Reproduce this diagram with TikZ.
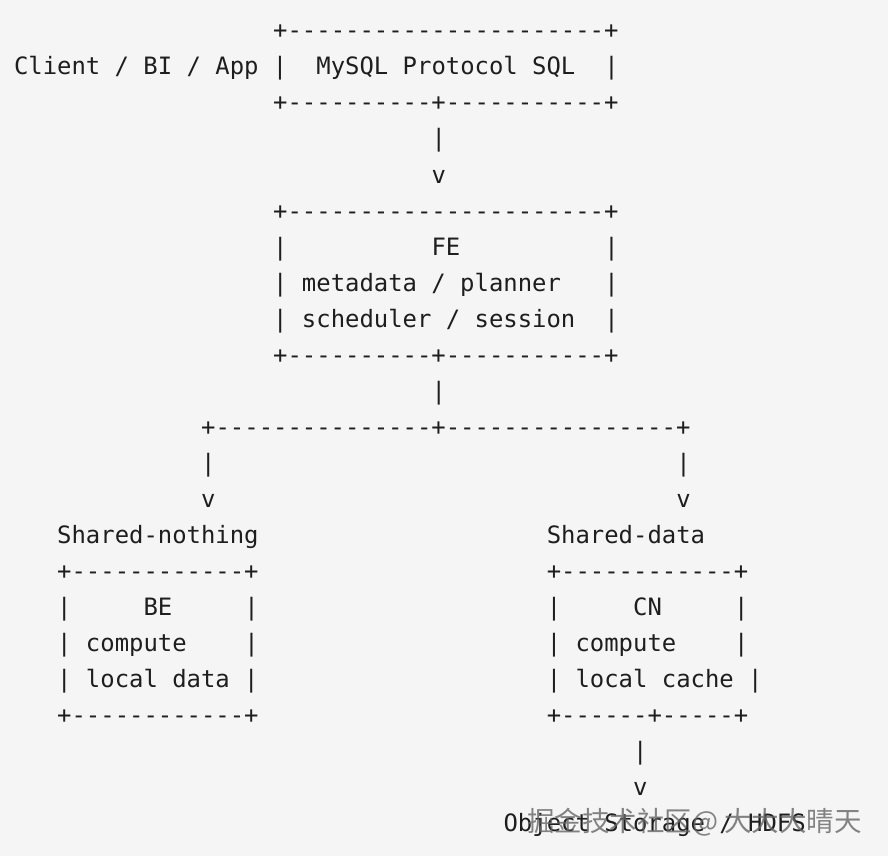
\documentclass[tikz,border=0pt]{standalone}
\usepackage{fontspec}
\setmonofont{DejaVu Sans Mono}
\newfontfamily\cjkfont{Noto Sans CJK SC}
\definecolor{bg}{HTML}{F5F5F5}
\definecolor{ink}{HTML}{1E1E1E}
\begin{document}
\begin{tikzpicture}[x=14.4pt,y=-36pt,
  ascii/.style={anchor=base west, inner sep=0pt, outer sep=0pt, text=ink,
    font=\ttfamily\fontsize{23.9}{36}\selectfont},
  wmark/.style={anchor=base east, inner sep=0pt, text=black!60, opacity=0.8,
    font=\cjkfont\fontsize{27.5}{30}\selectfont}]
% canvas: origin = left edge of column 0, baseline of row 0
\fill[bg] (-14pt,39pt) rectangle (874pt,-817pt);
\useasboundingbox (-14pt,39pt) rectangle (874pt,-817pt);
% row 0-2: client box
\node[ascii] (r0)  at (18,0) {+----------------------+};
\node[ascii] (r1a) at (0,1)  {Client / BI / App |};
\node[ascii] (r1b) at (21,1) {MySQL Protocol SQL};
\node[ascii] (r1c) at (41,1) {|};
\node[ascii] (r2)  at (18,2) {+----------+-----------+};
\node[ascii] (r3)  at (29,3) {|};
\node[ascii] (r4)  at (29,4) {v};
% FE box
\node[ascii] (r5)  at (18,5) {+----------------------+};
\node[ascii] (r6a) at (18,6) {|};
\node[ascii] (r6b) at (29,6) {FE};
\node[ascii] (r6c) at (41,6) {|};
\node[ascii] (r7a) at (18,7) {| metadata / planner};
\node[ascii] (r7b) at (41,7) {|};
\node[ascii] (r8a) at (18,8) {| scheduler / session};
\node[ascii] (r8b) at (41,8) {|};
\node[ascii] (r9)  at (18,9) {+----------+-----------+};
\node[ascii] (r10) at (29,10) {|};
\node[ascii] (r11) at (13,11) {+---------------+----------------+};
\node[ascii] (r12a) at (13,12) {|};
\node[ascii] (r12b) at (46,12) {|};
\node[ascii] (r13a) at (13,13) {v};
\node[ascii] (r13b) at (46,13) {v};
% left branch: shared-nothing
\node[ascii] (l14) at (3,14) {Shared-nothing};
\node[ascii] (l15) at (3,15) {+------------+};
\node[ascii] (l16a) at (3,16) {|};
\node[ascii] (l16b) at (9,16) {BE};
\node[ascii] (l16c) at (16,16) {|};
\node[ascii] (l17a) at (3,17) {| compute};
\node[ascii] (l17b) at (16,17) {|};
\node[ascii] (l18) at (3,18) {| local data |};
\node[ascii] (l19) at (3,19) {+------------+};
% right branch: shared-data
\node[ascii] (s14) at (37,14) {Shared-data};
\node[ascii] (s15) at (37,15) {+------------+};
\node[ascii] (s16a) at (37,16) {|};
\node[ascii] (s16b) at (43,16) {CN};
\node[ascii] (s16c) at (50,16) {|};
\node[ascii] (s17a) at (37,17) {| compute};
\node[ascii] (s17b) at (50,17) {|};
\node[ascii] (s18) at (37,18) {| local cache |};
\node[ascii] (s19) at (37,19) {+------+-----+};
\node[ascii] (s20) at (43,20) {|};
\node[ascii] (s21) at (43,21) {v};
\node[ascii] (s22) at (34,22) {Object Storage / HDFS};
% watermark
\node[wmark] (wm) at (848pt,-792pt) {掘金技术社区@ 大大大晴天};
\end{tikzpicture}
\end{document}
